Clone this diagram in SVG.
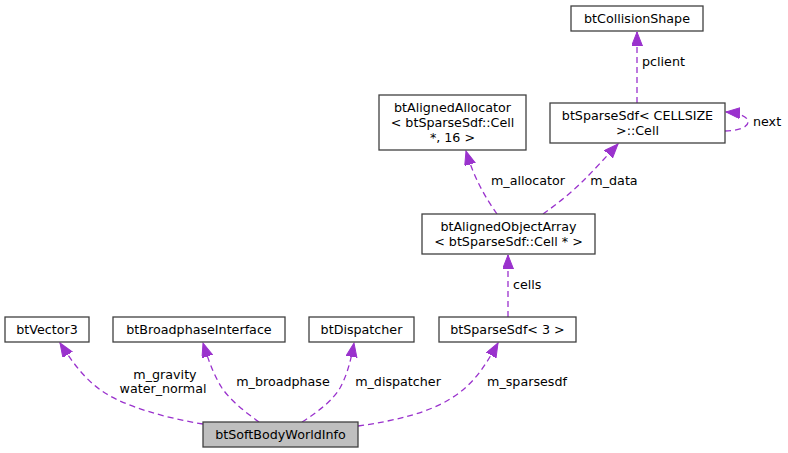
<svg xmlns="http://www.w3.org/2000/svg" width="788" height="453" viewBox="0 0 788 453">
<style>
text{font-family:"DejaVu Sans","Liberation Sans",sans-serif;font-size:12.7px;fill:#000}
.n rect{fill:#fff;stroke:#404040;stroke-width:1.3}
.n text{text-anchor:middle}
#info rect{fill:#bfbfbf}
.e path{fill:none;stroke:#9a32cd;stroke-width:1.3;stroke-dasharray:6,4;marker-end:url(#ah)}
.l{text-anchor:middle}
</style>
<defs>
<marker id="ah" markerUnits="userSpaceOnUse" markerWidth="15" markerHeight="12" refX="14" refY="5.5" orient="auto">
<path d="M0,0 L14,5.5 L0,11 z" fill="#9a32cd" stroke="#9a32cd" stroke-width="1"/>
</marker>
</defs>
<rect width="788" height="453" fill="#fff"/>
<g id="edges" class="e">
<path d="M203,424 C165,418 125,406 105,393 C88,382 76,368 60,343"/>
<path d="M259,422 C245,412 230,400 222,388 C215,377 210,365 203,343"/>
<path d="M302,422 C318,412 333,400 340,388 C346,377 350,365 354,343"/>
<path d="M358,426 C395,421 430,412 450,399 C470,387 482,372 498,343"/>
<path d="M508,317 L508,255"/>
<path d="M497,214 C485,197 474,178 466,151"/>
<path d="M543,214 C557,204 571,193 583,181 C594,170 606,157 618,144"/>
<path d="M637,103 L637,32"/>
<path d="M725,131 C736,131 748,128 748,122 C748,116 738,113 726,112"/>
</g>
<g id="edge-labels">
<text class="l" x="165" y="379">m_gravity</text>
<text class="l" x="163" y="393">water_normal</text>
<text class="l" x="283" y="386">m_broadphase</text>
<text class="l" x="398" y="386">m_dispatcher</text>
<text class="l" x="527" y="386">m_sparsesdf</text>
<text x="513" y="289">cells</text>
<text class="l" x="528" y="185">m_allocator</text>
<text class="l" x="614" y="185">m_data</text>
<text x="642" y="66">pclient</text>
<text x="753" y="126">next</text>
</g>
<g id="info" class="n"><rect x="203" y="422" width="155" height="25"/><text x="280.5" y="439">btSoftBodyWorldInfo</text></g>
<g id="vec3" class="n"><rect x="5" y="317" width="84" height="25"/><text x="47" y="334">btVector3</text></g>
<g id="broadphase" class="n"><rect x="113" y="317" width="172" height="25"/><text x="199" y="334">btBroadphaseInterface</text></g>
<g id="dispatcher" class="n"><rect x="309" y="317" width="105" height="25"/><text x="361.5" y="334">btDispatcher</text></g>
<g id="sparse3" class="n"><rect x="439" y="317" width="137" height="25"/><text x="507.5" y="334">btSparseSdf&lt; 3 &gt;</text></g>
<g id="objarray" class="n"><rect x="422" y="214" width="173" height="40"/><text x="508.5" y="231">btAlignedObjectArray</text><text x="508.5" y="246">&lt; btSparseSdf::Cell * &gt;</text></g>
<g id="allocator" class="n"><rect x="379" y="95" width="147" height="55"/><text x="452.5" y="112">btAlignedAllocator</text><text x="452.5" y="127">&lt; btSparseSdf::Cell</text><text x="452.5" y="142">*, 16 &gt;</text></g>
<g id="cell" class="n"><rect x="550" y="103" width="175" height="40"/><text x="637.5" y="120">btSparseSdf&lt; CELLSIZE</text><text x="637.5" y="135">&gt;::Cell</text></g>
<g id="collision" class="n"><rect x="571" y="6" width="132" height="25"/><text x="637" y="23">btCollisionShape</text></g>
</svg>
